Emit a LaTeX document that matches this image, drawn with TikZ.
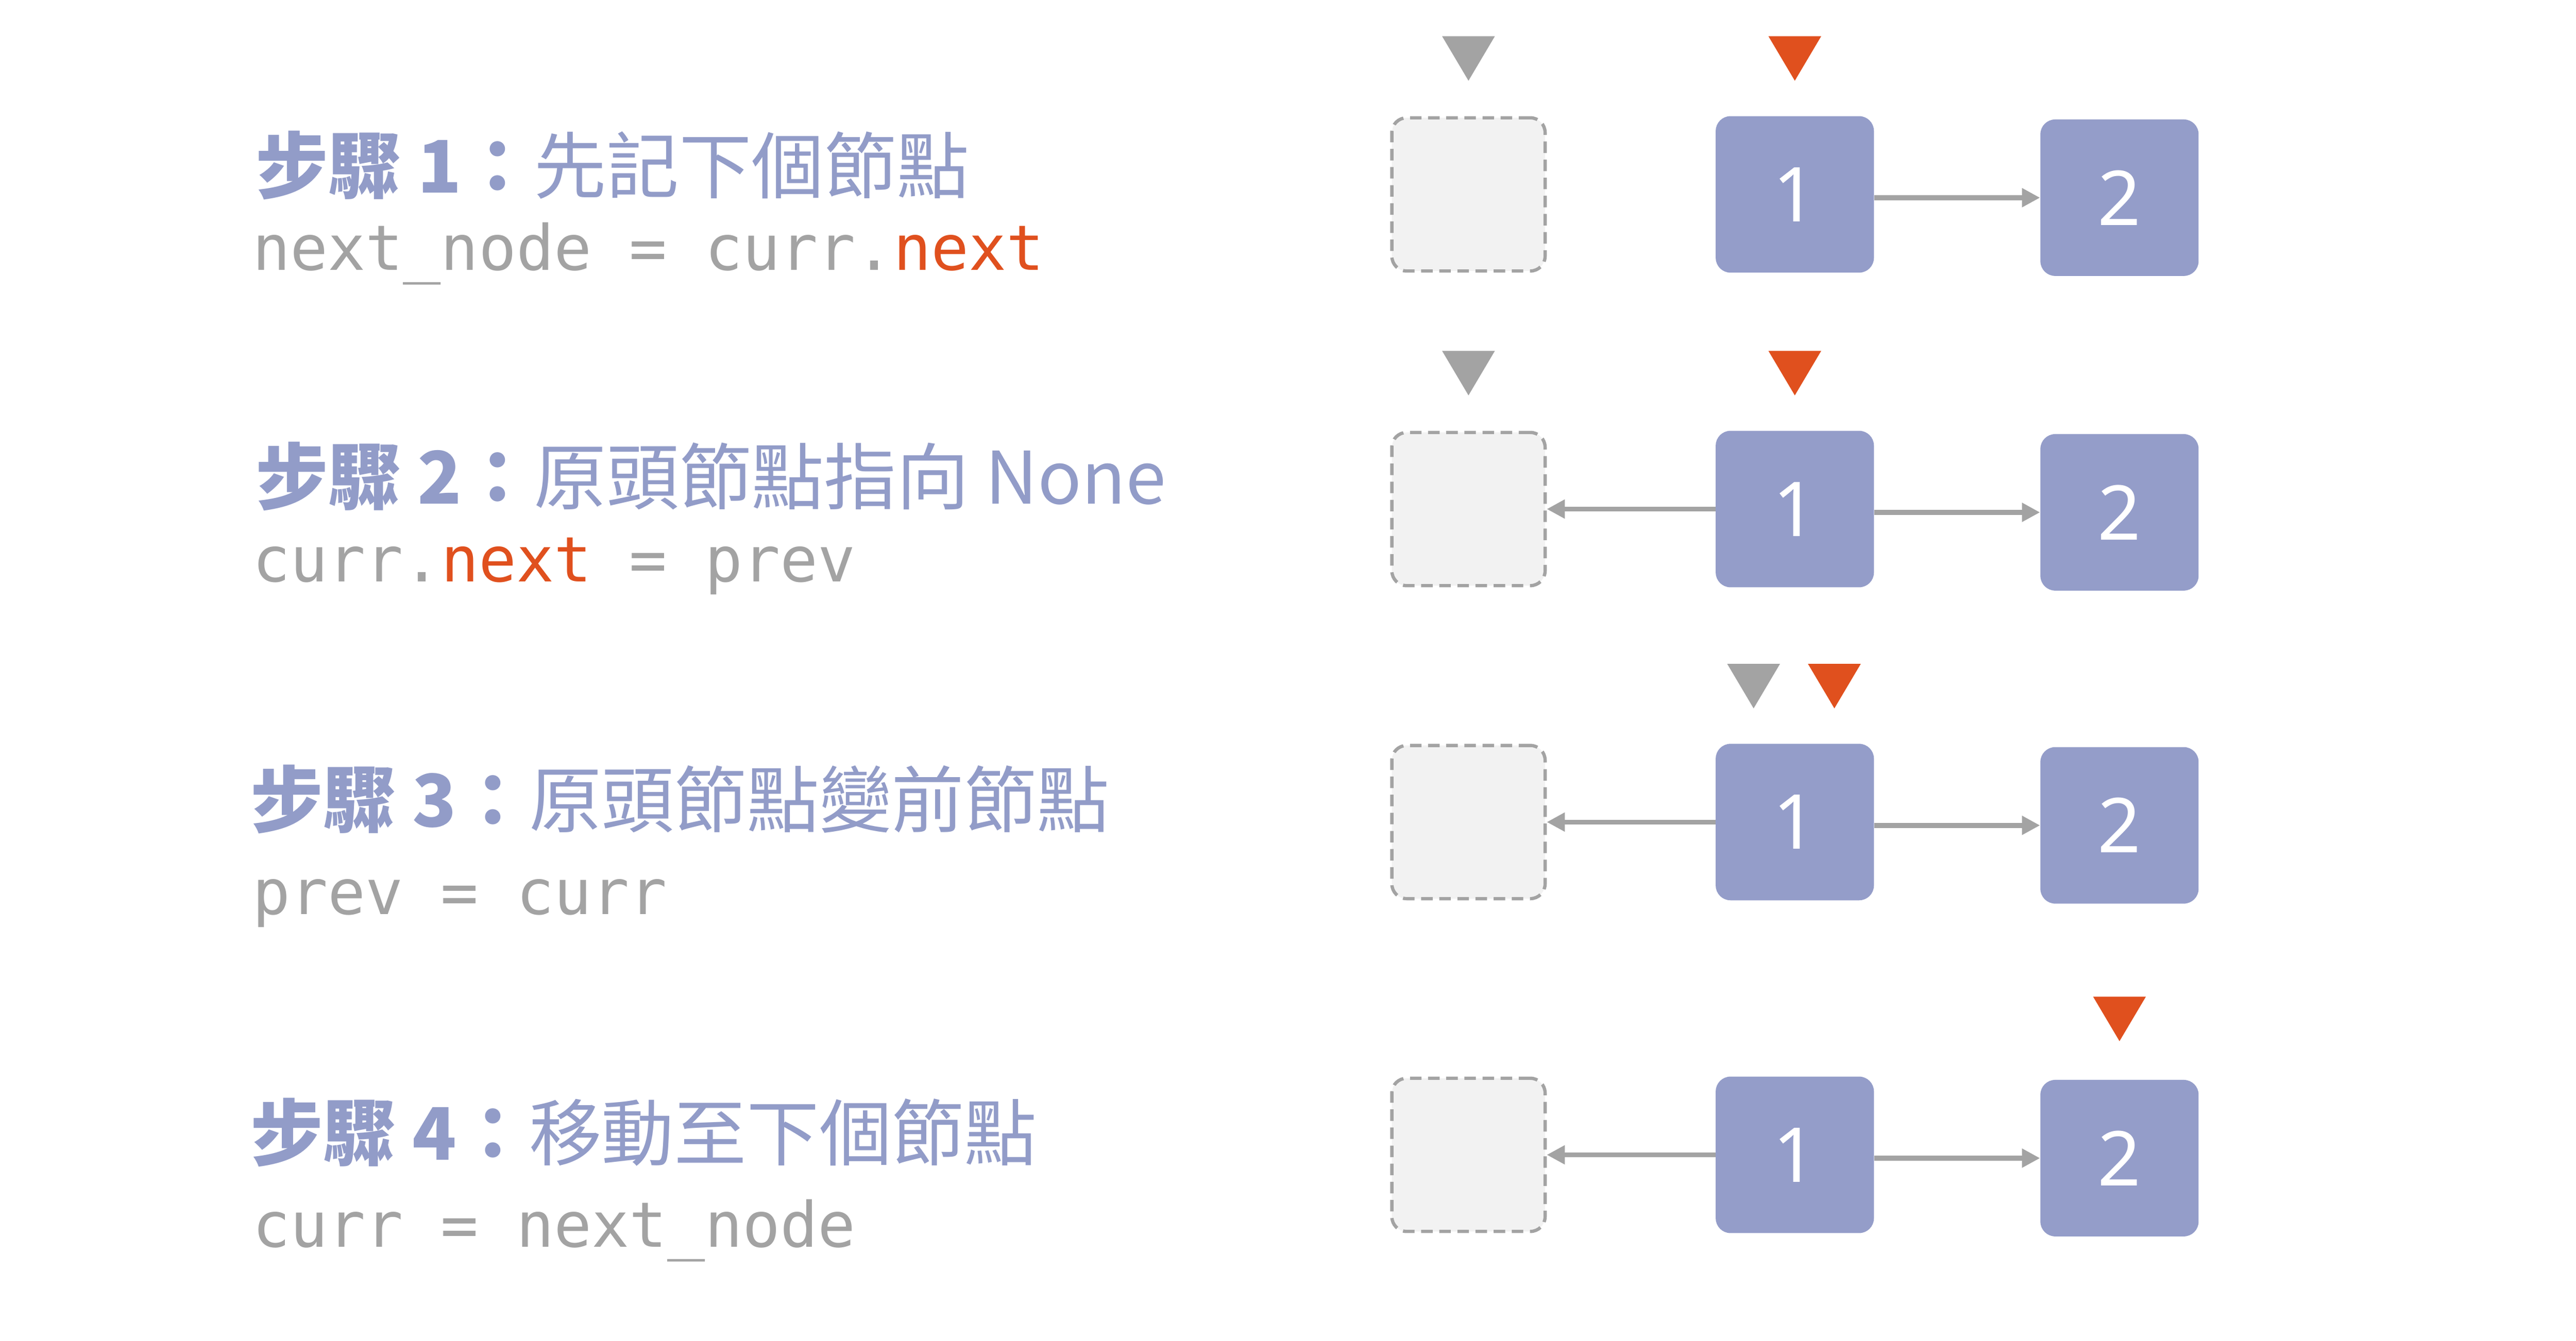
\documentclass[tikz,border=0pt]{standalone}
\usepackage{fontspec}
\setmainfont{Noto Sans}
\newfontfamily\cjk{Noto Sans CJK TC}
\newfontfamily\cjkb{Noto Sans CJK TC}[FakeBold=0]
\setmonofont{DejaVu Sans Mono}
\usetikzlibrary{arrows.meta}
\definecolor{tc}{HTML}{929CC8}
\definecolor{nf}{HTML}{949DC9}
\definecolor{gr}{HTML}{A3A3A3}
\definecolor{org}{HTML}{E0501E}
\definecolor{bx}{HTML}{F2F2F2}
\begin{document}
\begin{tikzpicture}[x=1pt,y=-1pt,
 nd/.style={rectangle,rounded corners=9pt,fill=nf,minimum width=96pt,minimum height=95pt,text=white,font=\fontsize{46}{46}\selectfont\bfseries},
 db/.style={rectangle,rounded corners=9pt,fill=bx,draw=gr,dashed,dash pattern=on 7pt off 4pt,line width=2pt,minimum width=93pt,minimum height=93pt},
 ar/.style={draw=gr,line width=3pt,-{Triangle[length=11pt,width=11pt]}},
 tri/.style={fill=#1,draw=none},
 tt/.style={anchor=base west,text=tc,font=\fontsize{44}{44}\selectfont\cjk,inner sep=0},
 cd/.style={anchor=base west,text=gr,font=\fontsize{38}{38}\selectfont\ttfamily,inner sep=0}]
\useasboundingbox (0,0) rectangle (1563,814);
\newcommand\tri[3]{\fill[#3] (#1-16,#2) -- (#1+16,#2) -- (#1,#2+27) -- cycle;}
% rows
\foreach \r/\y in {1/118,2/309,3/499,4/701}{
 \node[db] (d\r) at (891,\y) {};
 \node[nd] (a\r) at (1089,\y) {1};
 \node[nd] (b\r) at (1286,\y+2) {2};
 \draw[ar] (a\r.east |- b\r) -- (b\r.west);
}
\foreach \r in {2,3,4}{\draw[ar] (a\r.west) -- (d\r.east);}
\tri{891}{22}{gr}\tri{1089}{22}{org}
\tri{891}{213}{gr}\tri{1089}{213}{org}
\tri{1064}{403}{gr}\tri{1113}{403}{org}
\tri{1286}{605}{org}
\node[tt] (t1) at (155,117) {\textbf{步驟 1：}先記下個節點};
\node[cd] (c1) at (153,164) {next\_node = curr.\textcolor{org}{next}};
\node[tt] (t2) at (155,306) {\textbf{步驟 2：}原頭節點指向 None};
\node[cd] (c2) at (153,353) {curr.\textcolor{org}{next} = prev};
\node[tt] (t3) at (152,502) {\textbf{步驟 3：}原頭節點變前節點};
\node[cd] (c3) at (153,555) {prev = curr};
\node[tt] (t4) at (152,704) {\textbf{步驟 4：}移動至下個節點};
\node[cd] (c4) at (153,757) {curr = next\_node};
\end{tikzpicture}
\end{document}
